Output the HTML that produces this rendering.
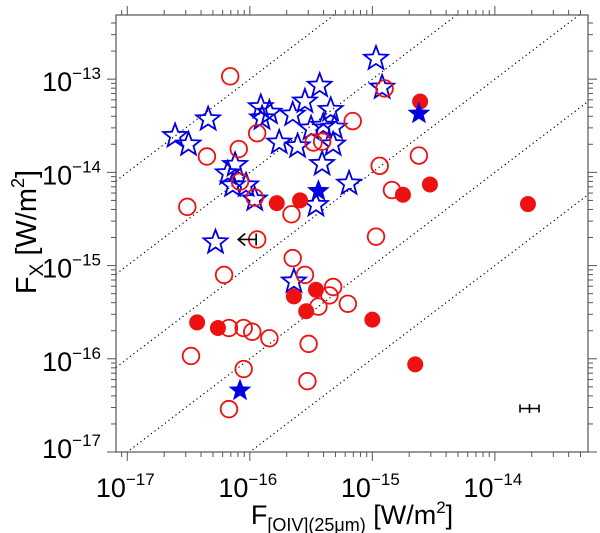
<!DOCTYPE html>
<html><head><meta charset="utf-8"><style>
html,body{margin:0;padding:0;background:#fff;}
svg{display:block;font-family:"Liberation Sans",Arial,sans-serif;}
</style></head><body>
<svg id="chart" width="600" height="533" viewBox="0 0 600 533" xmlns="http://www.w3.org/2000/svg">
<g id="grid"></g>
<g id="marks"></g>
<rect x="116" y="15" width="472" height="437" fill="none" stroke="#555" stroke-width="1.2"/>
<g id="axes"></g>
<text transform="translate(36,232) rotate(-90)" text-anchor="middle" font-size="29">F<tspan font-size="19" dy="7">X</tspan><tspan dy="-7"> [W/m</tspan><tspan font-size="18" dy="-12">2</tspan><tspan dy="12">]</tspan></text>
<text x="352" y="524" text-anchor="middle" font-size="27">F<tspan font-size="18" dy="7">[OIV](25μm)</tspan><tspan dy="-7"> [W/m</tspan><tspan font-size="17" dy="-11">2</tspan><tspan dy="11">]</tspan></text>
</svg>
<script>
// log10 values
const openCircleX = [-16.16,-15.94,-16.09,-16.35,-15.16,-15.48,-15.41,-14.90,-14.94,-14.84,-16.08,-15.96,-16.51,-15.66,-15.94,-14.97,-14.62,-15.65,-16.21,-15.55,-15.32,-15.35,-15.44,-15.20,-16.17,-16.05,-15.98,-15.84,-15.52,-16.48,-16.05,-15.53,-16.17];
const openCircleY = [-12.97,-13.58,-13.75,-13.83,-13.45,-13.68,-13.67,-13.10,-13.93,-14.19,-14.10,-14.27,-14.37,-14.45,-14.72,-14.69,-13.82,-14.92,-15.10,-15.10,-15.23,-15.32,-15.44,-15.41,-15.67,-15.67,-15.71,-15.78,-15.84,-15.97,-16.11,-16.24,-16.54];
const filledCircleX = [-15.78,-15.59,-14.61,-14.53,-14.75,-13.73,-15.64,-15.46,-15.54,-16.43,-16.26,-15.00,-14.65];
const filledCircleY = [-14.33,-14.30,-13.24,-14.13,-14.24,-14.34,-15.33,-15.26,-15.49,-15.61,-15.67,-15.58,-16.06];
const openStarX = [-14.97,-14.92,-15.43,-15.55,-15.34,-15.91,-15.84,-15.90,-15.65,-15.50,-15.40,-15.31,-15.32,-15.76,-15.61,-15.41,-16.34,-16.61,-16.50,-16.12,-16.18,-16.14,-16.03,-15.96,-15.46,-15.19,-16.28,-15.64];
const openStarY = [-12.78,-13.09,-13.07,-13.24,-13.33,-13.30,-13.36,-13.42,-13.38,-13.53,-13.50,-13.52,-13.70,-13.68,-13.72,-13.91,-13.43,-13.61,-13.70,-13.92,-14.01,-14.14,-14.14,-14.29,-14.35,-14.12,-14.75,-15.17];
const filledStarX = [-15.44,-14.62,-16.08];
const filledStarY = [-14.20,-13.37,-16.34];
const upperLimitX = [-15.94];
const upperLimitY = [-14.72];
const ratioLines = [3,2,1,0,-1];
const xTicks = [-17,-16,-15,-14];
const yTicks = [-13,-14,-15,-16,-17];

const X0=116,X1=588,Y0=15,Y1=452;
const xMin=-17.092,xMax=-13.24,yMin=-17.0,yMax=-12.312;
const sx=v=>X0+(v-xMin)/(xMax-xMin)*(X1-X0);
const sy=v=>Y1-(v-yMin)/(yMax-yMin)*(Y1-Y0);
const NS="http://www.w3.org/2000/svg";
function mk(tag,parent){const e=document.createElementNS(NS,tag);parent.appendChild(e);return e;}
const grid=document.getElementById('grid'),marks=document.getElementById('marks'),axes=document.getElementById('axes');

const defs=mk('defs',document.getElementById('chart'));
const cp=mk('clipPath',defs);cp.setAttribute('id','clip');
const cr=mk('rect',cp);cr.setAttribute('x',X0);cr.setAttribute('y',Y0);cr.setAttribute('width',X1-X0);cr.setAttribute('height',Y1-Y0);
grid.setAttribute('clip-path','url(#clip)');

ratioLines.forEach(r=>{
  const l=mk('line',grid);
  
  
  l.setAttribute('x1',sx(xMin));l.setAttribute('y1',sy(xMin+r));
  l.setAttribute('x2',sx(xMax));l.setAttribute('y2',sy(xMax+r));
  l.setAttribute('stroke','#000');l.setAttribute('stroke-width','1.2');l.setAttribute('stroke-dasharray','1.2 3.2');
});

function tick(x1,y1,x2,y2){const l=mk('line',axes);l.setAttribute('x1',x1);l.setAttribute('y1',y1);l.setAttribute('x2',x2);l.setAttribute('y2',y2);l.setAttribute('stroke','#555');l.setAttribute('stroke-width','1');}
for(let d=-18;d<=-13;d++){for(let m=1;m<10;m++){const v=d+Math.log10(m);const len=m===1?9:5;
  if(v>=xMin&&v<=xMax){const x=sx(v);tick(x,Y1,x,Y1+len);tick(x,Y0,x,Y0-len);}
  if(v>=yMin-0.001&&v<=yMax){const y=sy(v);tick(X0,y,X0-len,y);tick(X1,y,X1+len,y);}
}}
xTicks.forEach(v=>{
  const t=mk('text',axes);
  
  
  t.setAttribute('x',sx(v)-2);t.setAttribute('y',497);t.setAttribute('text-anchor','middle');t.setAttribute('font-size','27');
  t.innerHTML='10<tspan font-size="17" dy="-12">−'+(-v)+'</tspan>';
});
yTicks.forEach(v=>{
  const t=mk('text',axes);
  
  
  let y=sy(v)+12; if(v===-17) y-=6;
  t.setAttribute('x',101);t.setAttribute('y',y);t.setAttribute('text-anchor','end');t.setAttribute('font-size','27');
  t.innerHTML='10<tspan font-size="17" dy="-12">−'+(-v)+'</tspan>';
});

function starPts(cx,cy,R){const r=R*0.42;let p=[];for(let i=0;i<10;i++){const a=-Math.PI/2+i*Math.PI/5;const rr=i%2?r:R;p.push((cx+rr*Math.cos(a)).toFixed(1)+','+(cy+rr*Math.sin(a)).toFixed(1));}return p.join(' ');}

openStarX.forEach((v,i)=>{
  const s=mk('polygon',marks);
  
  
  s.setAttribute('points',starPts(sx(v),sy(openStarY[i]),12.5));s.setAttribute('fill','none');s.setAttribute('stroke','#0000e0');s.setAttribute('stroke-width','1.8');
});
openCircleX.forEach((v,i)=>{
  const c=mk('circle',marks);
  
  
  c.setAttribute('cx',sx(v));c.setAttribute('cy',sy(openCircleY[i]));c.setAttribute('r','8.3');c.setAttribute('fill','none');c.setAttribute('stroke','#ee1111');c.setAttribute('stroke-width','1.8');
});
filledCircleX.forEach((v,i)=>{
  const c=mk('circle',marks);
  
  
  c.setAttribute('cx',sx(v));c.setAttribute('cy',sy(filledCircleY[i]));c.setAttribute('r','8');c.setAttribute('fill','#ee1111');
});
filledStarX.forEach((v,i)=>{
  const s=mk('polygon',marks);
  
  
  s.setAttribute('points',starPts(sx(v),sy(filledStarY[i]),12));s.setAttribute('fill','#0000e0');
});
upperLimitX.forEach((v,i)=>{
  const x=sx(v),y=sy(upperLimitY[i]);
  const g=mk('path',marks);
  
  
  g.setAttribute('d',`M${x-1},${y-6} L${x-1},${y+6} M${x-1},${y} L${x-19},${y} M${x-12},${y-6} L${x-19},${y} L${x-12},${y+6}`);
  g.setAttribute('stroke','#000');g.setAttribute('stroke-width','1.6');g.setAttribute('fill','none');
});
const eb=mk('path',marks);


eb.setAttribute('d','M520,408.5 L539,408.5 M520,404.5 L520,412.5 M539,404.5 L539,412.5 M529.5,404 L529.5,413');
eb.setAttribute('stroke','#000');eb.setAttribute('stroke-width','1.6');eb.setAttribute('fill','none');
</script>
</body></html>
